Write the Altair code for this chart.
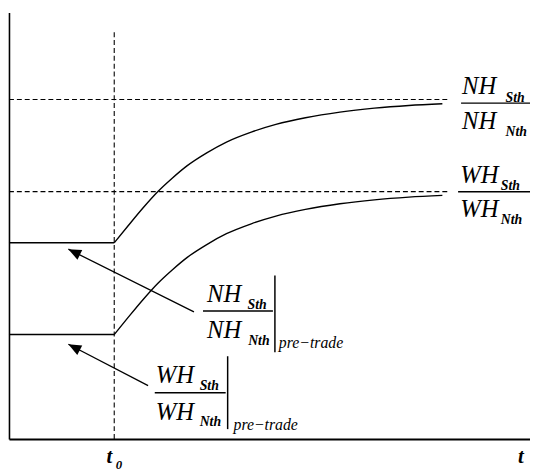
import math
import altair as alt
import pandas as pd

# ---- values (abstract units: t in 0..100, level in 0..100) ----
T0 = 20.2
NH_PRE = 46.0
WH_PRE = 24.5
NH_POST = 79.6
WH_POST = 58.0
DASH_END = 84.3
T0_TOP = 95.6

nh_t = [20.2, 22.87, 25.71, 28.54, 31.38, 34.22, 37.96, 41.74, 46.50, 51.23,
        56.90, 63.52, 70.13, 76.75, 83.18]
nh_y = [46.0, 50.0, 54.16, 57.97, 61.2, 64.09, 67.09, 69.63, 71.96, 73.76,
        75.33, 76.65, 77.57, 78.20, 78.61]
wh_t = [20.2, 22.87, 25.71, 28.54, 31.38, 34.22, 37.96, 41.74, 46.50, 51.23,
        56.90, 63.52, 70.13, 76.75, 83.18]
wh_y = [24.5, 28.5, 32.66, 36.47, 39.7, 42.59, 45.59, 48.13, 50.46, 52.26,
        53.83, 55.15, 56.07, 56.70, 57.11]

arrow_tail_t = [35.5, 26.7]
arrow_tail_y = [29.8, 12.5]
arrow_head_t = [11.4, 11.4]
arrow_head_y = [44.5, 22.2]

W, H = 529, 433
XS = alt.Scale(domain=[0, 100], nice=False, zero=False)
YS = alt.Scale(domain=[0, 100], nice=False, zero=False)
AX = alt.Axis(title=None, labels=False, ticks=False, grid=False,
              domain=True, domainColor="black", domainWidth=2)
AY = alt.Axis(title=None, labels=False, ticks=False, grid=False,
              domain=True, domainColor="black", domainWidth=1.6)


def X(f="t"):
    return alt.X(f"{f}:Q", scale=XS, axis=AX, title=None)


def Y(f="v"):
    return alt.Y(f"{f}:Q", scale=YS, axis=AY, title=None)


FONT = "Liberation Serif, Times New Roman, serif"

# curves
curves = pd.DataFrame(
    [{"t": t, "v": v, "s": "NH"} for t, v in zip(nh_t, nh_y)]
    + [{"t": t, "v": v, "s": "WH"} for t, v in zip(wh_t, wh_y)]
)
curve_layer = alt.Chart(curves).mark_line(
    color="black", strokeWidth=1.4, interpolate="monotone"
).encode(x=X("t"), y=Y("v"), detail="s:N")

# pre-trade levels (solid)
pre = pd.DataFrame({"t": [0, 0], "t2": [T0, T0], "v": [NH_PRE, WH_PRE]})
pre_layer = alt.Chart(pre).mark_rule(color="black", strokeWidth=1.4).encode(
    x=X("t"), x2="t2:Q", y=Y("v")
)

# post-trade asymptotes (dashed)
post = pd.DataFrame({"t": [0, 0], "t2": [DASH_END, DASH_END], "v": [NH_POST, WH_POST]})
post_layer = alt.Chart(post).mark_rule(color="black", strokeWidth=1.1, strokeDash=[5, 3]).encode(
    x=X("t"), x2="t2:Q", y=Y("v")
)

# t0 vertical dashed
vt = pd.DataFrame({"t": [T0], "v": [0], "v2": [T0_TOP]})
vt_layer = alt.Chart(vt).mark_rule(color="black", strokeWidth=1.1, strokeDash=[5, 3]).encode(
    x=X("t"), y=Y("v"), y2="v2:Q"
)

# arrows
ang = []
for tt, ty, ht, hy in zip(arrow_tail_t, arrow_tail_y, arrow_head_t, arrow_head_y):
    dx = (ht - tt) * W / 100
    dy = -(hy - ty) * H / 100
    ang.append(math.degrees(math.atan2(dx, -dy)) % 360)
arrows = pd.DataFrame({"t": arrow_tail_t, "v": arrow_tail_y,
                       "t2": arrow_head_t, "v2": arrow_head_y, "ang": ang})
arrow_lines = alt.Chart(arrows).mark_rule(color="black", strokeWidth=1.3).encode(
    x=X("t"), y=Y("v"), x2="t2:Q", y2="v2:Q"
)
arrow_heads = alt.Chart(arrows).mark_point(
    shape="M0,0 L-0.42,1 L0.42,1 Z", filled=True, fill="black",
    size=676, opacity=1
).encode(x=X("t2"), y=Y("v2"), angle=alt.Angle("ang:Q", scale=None))

# fraction labels
big = pd.DataFrame({
    "txt": ["NH", "NH", "WH", "WH", "NH", "NH", "WH", "WH"],
    "t": [86.96, 86.96, 86.6, 86.6, 38.0, 38.0, 28.17, 28.17],
    "v": [80.83, 72.75, 60.05, 51.96, 32.1, 23.56, 13.16, 4.39],
})
small = pd.DataFrame({
    "txt": ["Sth", "Nth", "Sth", "Nth", "Sth", "Nth", "Sth", "Nth"],
    "t": [95.3, 95.3, 94.4, 94.4, 45.8, 45.9, 36.6, 36.6],
    "v": [78.9, 71.13, 58.3, 50.35, 30.48, 21.94, 11.55, 3.0],
})
pretrade = pd.DataFrame({"txt": ["pre\u2212trade", "pre\u2212trade"],
                         "t": [51.8, 43.1], "v": [21.25, 2.08]})
bars = pd.DataFrame({"t": [86.77, 86.2, 37.24, 27.98],
                     "t2": [100, 100, 50.66, 41.59],
                     "v": [78.75, 57.97, 30.02, 10.85]})
vbars = pd.DataFrame({"t": [51.04, 41.97], "v": [38.34, 19.4], "v2": [20.32, 2.31]})

big_layer = alt.Chart(big).mark_text(
    font=FONT, fontStyle="italic", fontSize=25, align="left", baseline="alphabetic", color="black"
).encode(x=X("t"), y=Y("v"), text="txt:N")
small_layer = alt.Chart(small).mark_text(
    font=FONT, fontStyle="italic", fontWeight="bold", fontSize=14, align="left",
    baseline="alphabetic", color="black"
).encode(x=X("t"), y=Y("v"), text="txt:N")
pre_txt_layer = alt.Chart(pretrade).mark_text(
    font=FONT, fontStyle="italic", fontSize=16, align="left", baseline="alphabetic", color="black"
).encode(x=X("t"), y=Y("v"), text="txt:N")
bar_layer = alt.Chart(bars).mark_rule(color="black", strokeWidth=1.5).encode(
    x=X("t"), x2="t2:Q", y=Y("v")
)
vbar_layer = alt.Chart(vbars).mark_rule(color="black", strokeWidth=1.5).encode(
    x=X("t"), y=Y("v"), y2="v2:Q"
)

# time labels
tl = pd.DataFrame({"txt": ["t", "t"], "t": [18.71, 97.7], "v": [-5.6, -5.6]})
tsub = pd.DataFrame({"txt": ["0"], "t": [20.5], "v": [-7.0]})
tl_layer = alt.Chart(tl).mark_text(
    font=FONT, fontStyle="italic", fontWeight="bold", fontSize=21, align="left",
    baseline="alphabetic", color="black"
).encode(x=X("t"), y=Y("v"), text="txt:N")
tsub_layer = alt.Chart(tsub).mark_text(
    font=FONT, fontStyle="italic", fontWeight="bold", fontSize=13, align="left",
    baseline="alphabetic", color="black"
).encode(x=X("t"), y=Y("v"), text="txt:N")

chart = alt.layer(
    curve_layer, pre_layer, post_layer, vt_layer, arrow_lines, arrow_heads,
    bar_layer, vbar_layer, big_layer, small_layer, pre_txt_layer, tl_layer, tsub_layer
).properties(
    width=W, height=H,
    padding={"left": 1, "top": 1, "right": 0, "bottom": 33},
    autosize=alt.AutoSizeParams(type="none"),
    background="white",
).configure_view(stroke=None)

chart.save("out.html", embed_options={"renderer": "svg", "actions": False})
